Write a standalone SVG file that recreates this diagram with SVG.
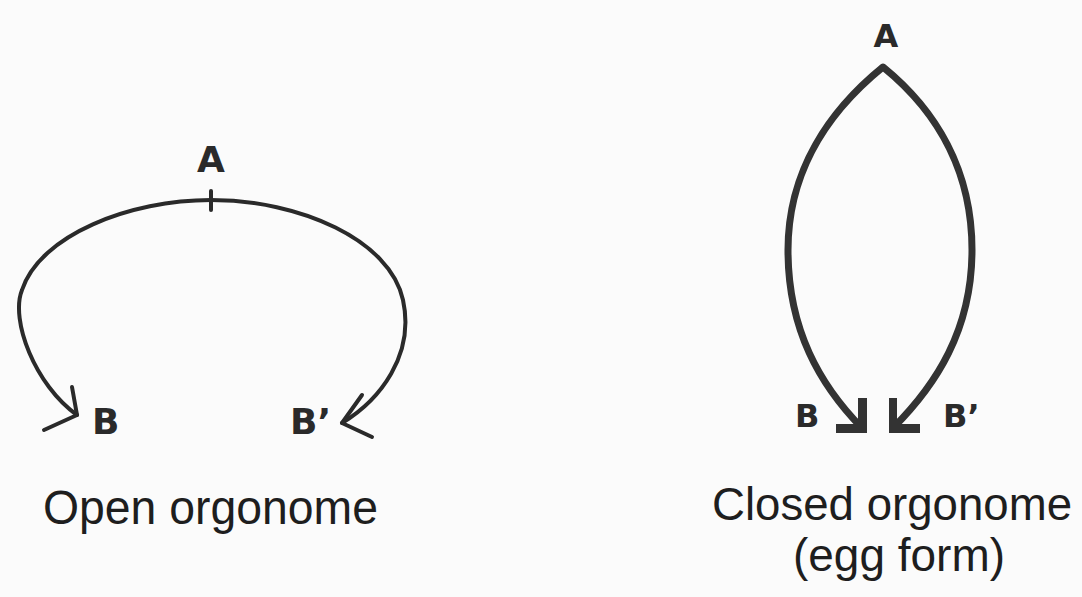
<svg xmlns="http://www.w3.org/2000/svg" width="1082" height="597" viewBox="0 0 1082 597">
<style>
.lbl{font-family:"DejaVu Sans","Liberation Sans",sans-serif;font-weight:bold;fill:#2a2a2a}
.cap{font-family:"Liberation Sans","DejaVu Sans",sans-serif;fill:#1e1e1e}
.thin{fill:none;stroke:#2a2a2a;stroke-width:4;stroke-linecap:round;stroke-linejoin:round}
.thick{fill:none;stroke:#333;stroke-width:7;stroke-linecap:butt;stroke-linejoin:round}
.head{fill:#333}
</style>
<rect width="1082" height="597" fill="#fbfbfb"/>
<g id="connectors">
<path class="thin" d="M77 415 C 35 385 10 320 22 290 C 40 235 130 200 211 200 C 300 200 390 240 403 300 C 415 355 380 400 342 423"/>
<path class="thin" d="M211 191 L211 210"/>
<path class="thin" d="M72 387 L77 415 L44 430"/>
<path class="thin" d="M362 395 L342 423 L372 437"/>
<path class="thick" d="M862 428 C 820 385 788 330 788 250 C 788 170 830 110 883 67 C 936 110 972 170 972 250 C 972 330 936 385 893 428"/>
<polygon class="head" points="858,398 867,398 867,433 836,433 836,424 858,424"/>
<polygon class="head" points="897,398 889,398 889,433 920,433 920,424 897,424"/>
</g>
<g id="open-orgonome">
<text class="lbl" x="211" y="172" font-size="36" text-anchor="middle">A</text>
<text class="lbl" x="92" y="434" font-size="36">B</text>
<text class="lbl" x="290" y="434" font-size="36">B’</text>
<text class="cap" x="43" y="524" font-size="49" textLength="335" lengthAdjust="spacingAndGlyphs">Open orgonome</text>
</g>
<g id="closed-orgonome">
<text class="lbl" x="886" y="47" font-size="32" text-anchor="middle">A</text>
<text class="lbl" x="795" y="427" font-size="32">B</text>
<text class="lbl" x="943" y="427" font-size="32">B’</text>
<text class="cap" x="712" y="520" font-size="47" textLength="360" lengthAdjust="spacingAndGlyphs">Closed orgonome</text>
<text class="cap" x="793" y="571" font-size="47" textLength="212" lengthAdjust="spacingAndGlyphs">(egg form)</text>
</g>
</svg>
